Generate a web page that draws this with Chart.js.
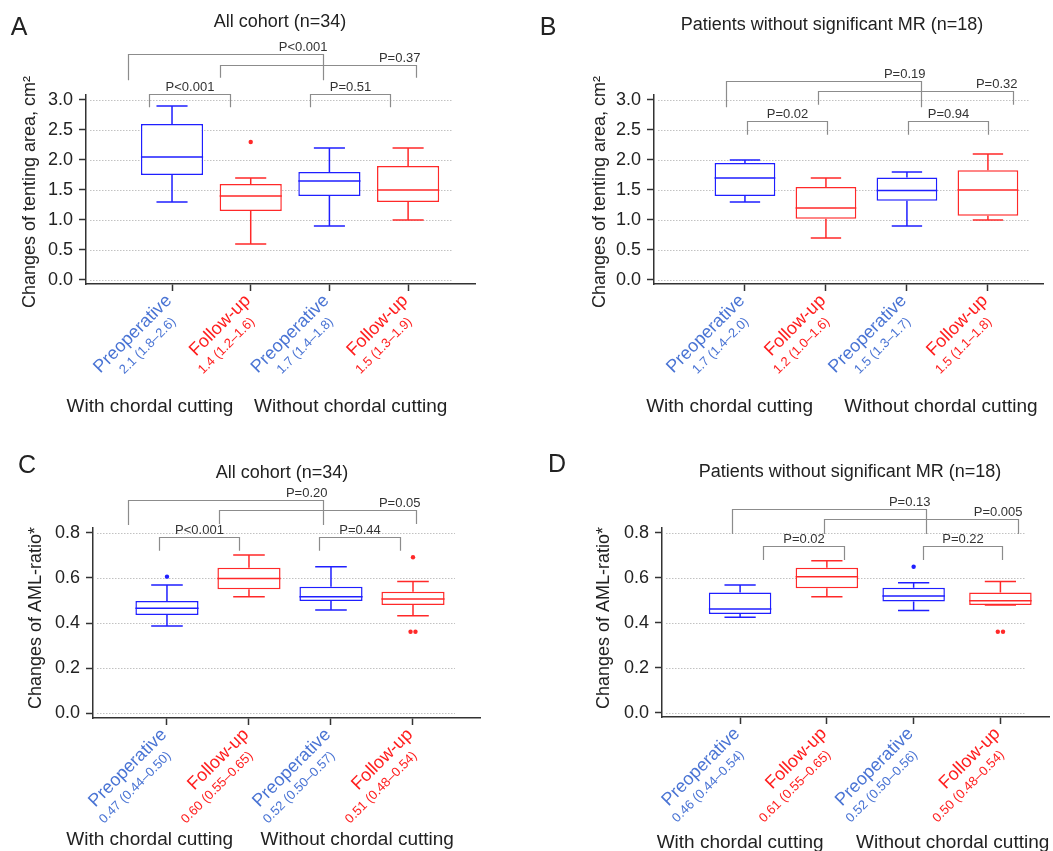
<!DOCTYPE html>
<html lang="en">
<head>
  <meta charset="UTF-8" />
  <title>Tenting area and AML-ratio</title>
  <script src="https://cdn.jsdelivr.net/npm/chart.js"></script>
  <style>
    body { margin: 0; background: #fff; }
    #wrap { position: relative; width: 1053px; height: 851px; overflow: hidden; }
    canvas { position: absolute; left: 0; top: 0; }
  </style>
</head>
<body>
  <div id="wrap">
    <canvas id="chartA" width="1053" height="851"></canvas>
    <canvas id="chartB" width="1053" height="851"></canvas>
    <canvas id="chartC" width="1053" height="851"></canvas>
    <canvas id="chartD" width="1053" height="851"></canvas>
  </div>

  <script>
    const groups = ['Preoperative', 'Follow-up', 'Preoperative', 'Follow-up'];
    const sides = ['With chordal cutting', 'Without chordal cutting'];
    const ticksArea = [0, 0.5, 1.0, 1.5, 2.0, 2.5, 3.0];
    const ticksRatio = [0, 0.2, 0.4, 0.6, 0.8];

    // A - tenting area, all cohort
    const summaryA = ['2.1 (1.8–2.6)', '1.4 (1.2–1.6)', '1.7 (1.4–1.8)', '1.5 (1.3–1.9)'];
    const lowA = [1.3, 0.6, 0.9, 1.0];
    const q1A = [1.75, 1.15, 1.4, 1.3];
    const medA = [2.05, 1.4, 1.65, 1.5];
    const q3A = [2.6, 1.6, 1.8, 1.9];
    const highA = [2.9, 1.7, 2.2, 2.2];
    const outA = [[], [2.3], [], []];
    const pA = ['P<0.001', 'P=0.51', 'P<0.001', 'P=0.37'];

    // B - tenting area, no significant MR
    const summaryB = ['1.7 (1.4–2.0)', '1.2 (1.0–1.6)', '1.5 (1.3–1.7)', '1.5 (1.1–1.8)'];
    const lowB = [1.3, 0.7, 0.9, 1.0];
    const q1B = [1.4, 1.02, 1.32, 1.07];
    const medB = [1.7, 1.2, 1.49, 1.5];
    const q3B = [1.95, 1.55, 1.71, 1.83];
    const highB = [2.0, 1.7, 1.8, 2.1];
    const outB = [[], [], [], []];
    const pB = ['P=0.02', 'P=0.94', 'P=0.19', 'P=0.32'];

    // C - AML ratio, all cohort
    const summaryC = ['0.47 (0.44–0.50)', '0.60 (0.55–0.65)', '0.52 (0.50–0.57)', '0.51 (0.48–0.54)'];
    const lowC = [0.387, 0.517, 0.458, 0.432];
    const q1C = [0.435, 0.55, 0.498, 0.48];
    const medC = [0.465, 0.598, 0.517, 0.507];
    const q3C = [0.498, 0.646, 0.561, 0.539];
    const highC = [0.569, 0.702, 0.65, 0.584];
    const outC = [[0.606], [], [], [0.692, 0.361, 0.361]];
    const pC = ['P<0.001', 'P=0.44', 'P=0.20', 'P=0.05'];

    // D - AML ratio, no significant MR
    const summaryD = ['0.46 (0.44–0.54)', '0.61 (0.55–0.65)', '0.52 (0.50–0.56)', '0.50 (0.48–0.54)'];
    const lowD = [0.425, 0.517, 0.455, 0.48];
    const q1D = [0.44, 0.554, 0.495, 0.48];
    const medD = [0.462, 0.606, 0.52, 0.499];
    const q3D = [0.535, 0.646, 0.557, 0.536];
    const highD = [0.569, 0.677, 0.579, 0.584];
    const outD = [[], [], [0.65], [0.361, 0.361]];
    const pD = ['P=0.02', 'P=0.22', 'P=0.13', 'P=0.005'];

    const FONT = '"Liberation Sans", Arial, Helvetica, sans-serif';
    const BLUE = '#1f1fff', RED = '#ff2929';
    const boxColors = [BLUE, RED, BLUE, RED];
    const labelColors = ['#4a74d4', '#ff1e1e', '#4a74d4', '#ff1e1e'];

    // titles, brackets, rotated labels, dotted grid
    const decor = {
      id: 'decor',
      beforeDatasetsDraw(chart, args, o) {
        const { ctx, chartArea: a, scales: { y } } = chart;
        ctx.save();
        ctx.strokeStyle = '#c2c2c2';
        ctx.lineWidth = 1;
        ctx.setLineDash([1.5, 1.5]);
        y.ticks.forEach(t => {
          const py = Math.round(y.getPixelForValue(t.value)) + 0.5;
          ctx.beginPath();
          ctx.moveTo(a.left + 4, py);
          ctx.lineTo(a.right - o.gridInset, py);
          ctx.stroke();
        });
        ctx.restore();
      },
      afterDraw(chart, args, o) {
        const { ctx, chartArea: a, scales: { x, y } } = chart;
        ctx.save();
        ctx.fillStyle = '#222';
        ctx.textAlign = 'center';
        ctx.textBaseline = 'middle';

        ctx.font = '25px ' + FONT;
        ctx.fillText(o.letter, o.letterAt[0], o.letterAt[1]);
        ctx.font = '18px ' + FONT;
        ctx.fillText(o.title, o.titleAt[0], o.titleAt[1]);

        ctx.save();
        ctx.translate(o.yTitleAt[0], o.yTitleAt[1]);
        ctx.rotate(-Math.PI / 2);
        ctx.fillText(o.yTitle, 0, 0);
        ctx.restore();

        // category labels, rotated 45 degrees
        groups.forEach((g, i) => {
          const px = x.getPixelForValue(i);
          ctx.save();
          ctx.translate(px - 3, a.bottom + 14);
          ctx.rotate(-Math.PI / 4);
          ctx.textAlign = 'right';
          ctx.fillStyle = labelColors[i];
          ctx.font = '18px ' + FONT;
          ctx.fillText(g, 0, 0);
          ctx.font = '13px ' + FONT;
          ctx.fillText(o.summary[i], -12, 19);
          ctx.restore();
        });

        ctx.font = '19px ' + FONT;
        ctx.fillStyle = '#222';
        sides.forEach((s, j) => {
          ctx.fillText(s, x.getPixelForValue(o.sideAt[j]), o.sideY);
        });

        // significance brackets
        ctx.strokeStyle = '#8c8c8c';
        ctx.lineWidth = 1.2;
        ctx.font = '13px ' + FONT;
        ctx.fillStyle = '#333';
        ctx.textBaseline = 'bottom';
        o.brackets.forEach((b, k) => {
          const x1 = Math.round(x.getPixelForValue(b.x1)) + 0.5;
          const x2 = Math.round(x.getPixelForValue(b.x2)) + 0.5;
          const yl = Math.round(y.getPixelForValue(b.y)) + 0.5;
          const yb = y.getPixelForValue(b.leg);
          ctx.beginPath();
          ctx.moveTo(x1, yb);
          ctx.lineTo(x1, yl);
          ctx.lineTo(x2, yl);
          ctx.lineTo(x2, yb);
          ctx.stroke();
          if (b.right) {
            ctx.textAlign = 'right';
            ctx.fillText(o.pvals[k], x2 + 4, yl - 1);
          } else {
            ctx.textAlign = 'center';
            ctx.fillText(o.pvals[k], (x1 + x2) / 2, yl - 1);
          }
        });
        ctx.restore();
      }
    };

    function boxDatasets(p) {
      const ds = [];
      const half = p.boxW / 2, cap = p.boxW / 4;
      groups.forEach((g, i) => {
        const gap = { x: i, y: null };
        ds.push({
          type: 'scatter',
          showLine: true,
          spanGaps: false,
          pointRadius: 0,
          borderColor: boxColors[i],
          borderWidth: 1.5,
          order: 1,
          data: [
            { x: i, y: p.low[i] }, { x: i, y: p.q1[i] }, gap,
            { x: i, y: p.q3[i] }, { x: i, y: p.high[i] }, gap,
            { x: i - cap, y: p.high[i] }, { x: i + cap, y: p.high[i] }, gap,
            { x: i - cap, y: p.low[i] }, { x: i + cap, y: p.low[i] }, gap,
            { x: i - half, y: p.med[i] }, { x: i + half, y: p.med[i] }
          ]
        });
      });
      ds.push({
        type: 'bar',
        order: 5,
        data: groups.map((g, i) => ({ x: i, y: [p.q1[i], p.q3[i]] })),
        backgroundColor: '#ffffff',
        borderColor: boxColors,
        borderWidth: 1.5,
        borderSkipped: false,
        barPercentage: p.boxW,
        categoryPercentage: 1,
        grouped: false
      });
      const pts = [], cols = [];
      p.out.forEach((vals, i) => {
        vals.forEach((v, k) => {
          const same = vals.filter(w => w === v).length > 1;
          const shift = same ? (vals.indexOf(v) === k ? -0.03 : 0.03) : 0;
          pts.push({ x: i + shift, y: v });
          cols.push(boxColors[i]);
        });
      });
      ds.push({
        type: 'scatter',
        order: 0,
        data: pts,
        pointRadius: 2.2,
        pointBorderWidth: 0,
        pointBackgroundColor: cols
      });
      return ds;
    }

    function makePanel(id, p) {
      new Chart(document.getElementById(id), {
        type: 'scatter',
        data: { datasets: boxDatasets(p) },
        options: {
          responsive: false,
          animation: false,
          events: [],
          layout: { padding: p.pad },
          plugins: {
            legend: { display: false },
            tooltip: { enabled: false },
            decor: {
              letter: p.letter, letterAt: p.letterAt,
              title: p.title, titleAt: p.titleAt,
              yTitle: p.yTitle, yTitleAt: p.yTitleAt,
              summary: p.summary, sideAt: p.sideAt, sideY: p.sideY,
              pvals: p.pvals, brackets: p.brackets, gridInset: p.gridInset
            }
          },
          scales: {
            x: {
              type: 'linear',
              min: p.xMin, max: p.xMax,
              offset: false,
              afterBuildTicks: s => { s.ticks = groups.map((g, i) => ({ value: i })); },
              afterFit: s => { s.height = 10; },
              ticks: { display: false },
              grid: { offset: false, drawOnChartArea: false, tickLength: 7, tickColor: '#333', tickWidth: 1.5 },
              border: { color: '#333', width: 1.5 }
            },
            y: {
              type: 'linear',
              min: p.yMin, max: p.yMax,
              afterBuildTicks: s => { s.ticks = p.yTicks.map(v => ({ value: v })); },
              afterFit: s => { s.width = 50; },
              ticks: {
                font: { family: FONT, size: 18 },
                color: '#222',
                padding: 6,
                callback: v => v.toFixed(1)
              },
              grid: { offset: false, drawOnChartArea: false, tickLength: 7, tickColor: '#333', tickWidth: 1.5 },
              border: { color: '#333', width: 1.5 }
            }
          }
        },
        plugins: [decor]
      });
    }

    makePanel('chartA', {
      letter: 'A', letterAt: [19, 28],
      title: 'All cohort (n=34)', titleAt: [280, 22],
      yTitle: 'Changes of tenting area, cm²', yTitleAt: [30, 192],
      summary: summaryA, low: lowA, q1: q1A, med: medA, q3: q3A, high: highA, out: outA,
      pvals: pA,
      brackets: [
        { x1: -0.29, x2: 0.74, y: 3.10, leg: 2.88 },
        { x1: 1.75, x2: 2.77, y: 3.10, leg: 2.88 },
        { x1: -0.56, x2: 1.92, y: 3.77, leg: 3.33, right: true },
        { x1: 0.61, x2: 3.10, y: 3.58, leg: 3.37, right: true }
      ],
      sideAt: [-0.28, 2.27], sideY: 407,
      pad: { left: 36, top: 95, right: 578, bottom: 557 },
      xMin: -1.093, xMax: 3.85, yMin: -0.067, yMax: 3.083, yTicks: ticksArea,
      boxW: 0.79, gridInset: 22
    });

    makePanel('chartB', {
      letter: 'B', letterAt: [548, 28],
      title: 'Patients without significant MR (n=18)', titleAt: [832, 25],
      yTitle: 'Changes of tenting area, cm²', yTitleAt: [600, 192],
      summary: summaryB, low: lowB, q1: q1B, med: medB, q3: q3B, high: highB, out: outB,
      pvals: pB,
      brackets: [
        { x1: 0.02, x2: 1.01, y: 2.65, leg: 2.42 },
        { x1: 2.01, x2: 3.0, y: 2.65, leg: 2.42 },
        { x1: -0.23, x2: 2.17, y: 3.32, leg: 2.88, right: true },
        { x1: 0.90, x2: 3.31, y: 3.155, leg: 2.92, right: true }
      ],
      sideAt: [-0.19, 2.42], sideY: 407,
      pad: { left: 604, top: 95, right: 10, bottom: 557 },
      xMin: -1.123, xMax: 3.68, yMin: -0.067, yMax: 3.083, yTicks: ticksArea,
      boxW: 0.75, gridInset: 13
    });

    makePanel('chartC', {
      letter: 'C', letterAt: [27, 466],
      title: 'All cohort (n=34)', titleAt: [282, 473],
      yTitle: 'Changes of AML-ratio*', yTitleAt: [36, 618],
      summary: summaryC, low: lowC, q1: q1C, med: medC, q3: q3C, high: highC, out: outC,
      pvals: pC,
      brackets: [
        { x1: -0.10, x2: 0.88, y: 0.781, leg: 0.721 },
        { x1: 1.85, x2: 2.84, y: 0.781, leg: 0.721 },
        { x1: -0.48, x2: 1.90, y: 0.947, leg: 0.836, right: true },
        { x1: 0.63, x2: 3.04, y: 0.902, leg: 0.84, right: true }
      ],
      sideAt: [-0.21, 2.32], sideY: 840,
      pad: { left: 43, top: 528, right: 573, bottom: 123 },
      xMin: -0.902, xMax: 3.817, yMin: -0.0222, yMax: 0.8222, yTicks: ticksRatio,
      boxW: 0.77, gridInset: 25
    });

    makePanel('chartD', {
      letter: 'D', letterAt: [557, 465],
      title: 'Patients without significant MR (n=18)', titleAt: [850, 472],
      yTitle: 'Changes of AML-ratio*', yTitleAt: [604, 618],
      summary: summaryD, low: lowD, q1: q1D, med: medD, q3: q3D, high: highD, out: outD,
      pvals: pD,
      brackets: [
        { x1: 0.26, x2: 1.20, y: 0.742, leg: 0.68 },
        { x1: 2.11, x2: 3.02, y: 0.742, leg: 0.68 },
        { x1: -0.09, x2: 2.14, y: 0.907, leg: 0.796, right: true },
        { x1: 0.97, x2: 3.20, y: 0.862, leg: 0.796, right: true }
      ],
      sideAt: [0.0, 2.45], sideY: 843,
      pad: { left: 612, top: 528, right: 0, bottom: 124 },
      xMin: -0.90, xMax: 3.56, yMin: -0.0178, yMax: 0.8222, yTicks: ticksRatio,
      boxW: 0.72, gridInset: 23
    });
  </script>
</body>
</html>
